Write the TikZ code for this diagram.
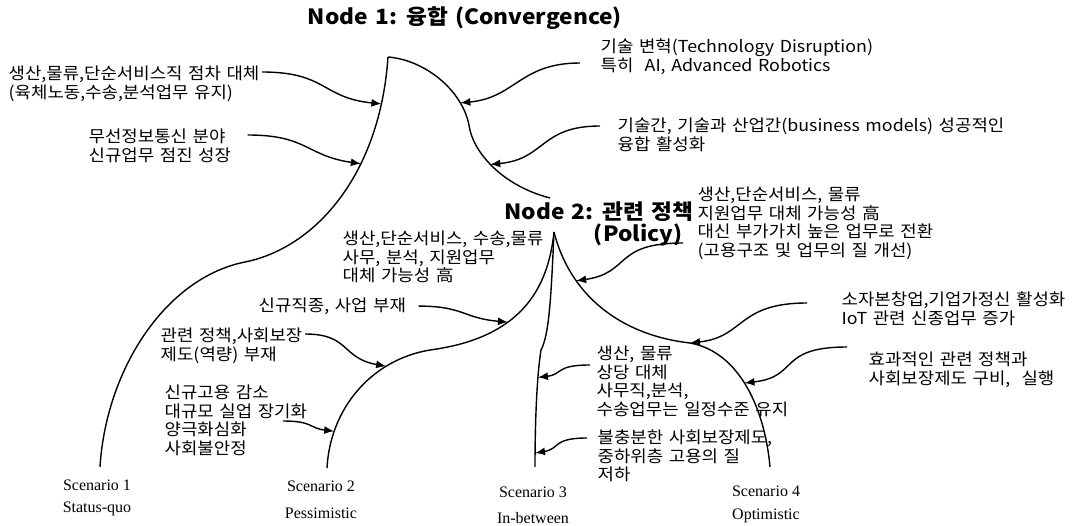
\documentclass[tikz,border=0pt]{standalone}
\usepackage{fontspec}
\setmainfont{Noto Sans CJK KR}[FakeStretch=1.08, WordSpace=1.4]
\newfontfamily\scenfont{Liberation Serif}
\usepackage{tikz}
\usetikzlibrary{calc,arrows.meta}

\begin{document}
\begin{tikzpicture}[x=1pt, y=-1pt, >={Latex[length=10pt,width=8pt]}, line width=1.4pt,
    lbl/.style={anchor=north west, inner sep=0pt, align=left, font=\fontsize{16.5}{18.8}\selectfont},
    hd/.style={inner sep=0pt, font=\fontsize{21}{22}\selectfont\bfseries},
    scn/.style={inner sep=0pt, align=center, font=\fontsize{16}{20}\selectfont\scenfont}]
   \useasboundingbox (0,0) rectangle (1080,526);

   \coordinate (n1) at (388,57);
   \coordinate (n2) at (554,232);
   \coordinate (e1) at (100,467);
   \coordinate (e2) at (327,468);
   \coordinate (e3) at (535,467);
   \coordinate (e4) at (770,467);

   %titles
   \node[hd] (node1) at (465,18) {Node 1: 융합 (Convergence)};
   \node[hd, anchor=north east, align=right] (node2) at (694,201) {Node 2: 관련 정책\\(Policy)\hspace*{11pt}};

   %node 1 branches
   \draw (e1) .. controls (106,370) and (165,278) .. (245,262)
              .. controls (315,248) and (380,175) .. (n1) coordinate[pos=0.65] (p2) coordinate[pos=0.86] (p1);
   \draw (n1) .. controls (425,60) and (462,90) .. (469,125) coordinate[pos=0.78] (p3)
              .. controls (472,150) and (500,185) .. (550,198) coordinate[pos=0.48] (p4);

   %node 2 branches
   \draw (n2) .. controls (548,290) and (520,338) .. (430,350) coordinate[pos=0.62] (p6)
              .. controls (370,360) and (330,410) .. (e2) coordinate[pos=0.27] (p7) coordinate[pos=0.78] (p8);
   \draw (n2) .. controls (551,300) and (549,335) .. (541,350)
              .. controls (537,375) and (535,420) .. (e3) coordinate[pos=0.3] (p12) coordinate[pos=0.9] (p13);
   \draw (n2) .. controls (570,295) and (620,335) .. (690,343) coordinate[pos=0.29] (p9) coordinate[pos=1] (p10)
              .. controls (740,352) and (765,410) .. (e4) coordinate[pos=0.47] (p11);

   %labels
   \node[lbl] (repl) at (8,65) {생산,물류,단순서비스직 점차 대체\\(육체노동,수송,분석업무 유지)};
   \node[lbl] (wire) at (88,128) {무선정보통신 분야\\신규업무 점진 성장};
   \node[lbl] (tech) at (600,38) {기술 변혁(Technology Disruption)\\특히\ \ AI, Advanced Robotics};
   \node[lbl] (conv) at (617,117) {기술간, 기술과 산업간(business models) 성공적인\\융합 활성화};
   \node[lbl] (subs) at (342,230) {생산,단순서비스, 수송,물류\\사무, 분석, 지원업무\\대체 가능성 高};
   \node[lbl] (nojob) at (258,297) {신규직종, 사업 부재};
   \node[lbl] (nopol) at (160,327) {관련 정책,사회보장\\제도(역량) 부재};
   \node[lbl] (unemp) at (164,384) {신규고용 감소\\대규모 실업 장기화\\양극화심화\\사회불안정};
   \node[lbl] (shift) at (697,186) {생산,단순서비스, 물류\\지원업무 대체 가능성 高\\대신 부가가치 높은 업무로 전환\\(고용구조 및 업무의 질 개선)};
   \node[lbl] (start) at (841,291) {소자본창업,기업가정신 활성화\\IoT 관련 신종업무 증가};
   \node[lbl] (effpol) at (868,351) {효과적인 관련 정책과\\사회보장제도 구비,\ \ 실행};
   \node[lbl] (partial) at (596,345) {생산, 물류\\상당 대체\\사무직,분석,\\수송업무는 일정수준 유지};
   \node[lbl] (weak) at (597,429) {불충분한 사회보장제도,\\중하위층 고용의 질\\저하};

   %scenarios
   \node[scn] (sc1) at (97,498) {Scenario 1\\[2pt]Status-quo};
   \node[scn] (sc2) at (321,500) {Scenario 2\\[7pt]Pessimistic};
   \node[scn] (sc3) at (533,505) {Scenario 3\\[6pt]In-between};
   \node[scn] (sc4) at (766,504) {Scenario 4\\[3pt]Optimistic};

   %pointers
   \draw[->] ($(repl.north east)+(2,7)$) .. controls +(65,0) and +(-60,-6) .. (p1);
   \draw[->] ($(wire.north east)+(16,7)$) .. controls +(60,0) and +(-55,-8) .. (p2);
   \draw[->] ($(tech.north west)+(-20,25)$) .. controls +(-60,0) and +(55,-5) .. (p3);
   \draw[->] ($(conv.north west)+(-17,9)$) .. controls +(-60,0) and +(55,-5) .. (p4);
   \draw[->] ($(nojob.east)+(12,0)$) .. controls +(45,0) and +(-45,-4) .. (p6);
   \draw[->] ($(nopol.north east)+(2,7)$) .. controls +(45,0) and +(-45,-8) .. (p7);
   \draw[->] ($(unemp.north west)+(119,37)$) .. controls +(30,0) and +(-25,-3) .. (p8);
   \draw[->] ($(shift.north west)+(-14,57)$) .. controls +(-70,0) and +(55,-8) .. (p9);
   \draw[->] ($(start.north west)+(-34,12)$) .. controls +(-70,0) and +(55,-6) .. (p10);
   \draw[->] ($(effpol.north west)+(-21,-4)$) .. controls +(-70,0) and +(55,-6) .. (p11);
   \draw[->] ($(partial.north west)+(-6,20)$) .. controls +(-35,0) and +(25,-3) .. (p12);
   \draw[->] ($(weak.north west)+(-10,9)$) .. controls +(-35,0) and +(25,-4) .. (p13);
\end{tikzpicture}
\end{document}
